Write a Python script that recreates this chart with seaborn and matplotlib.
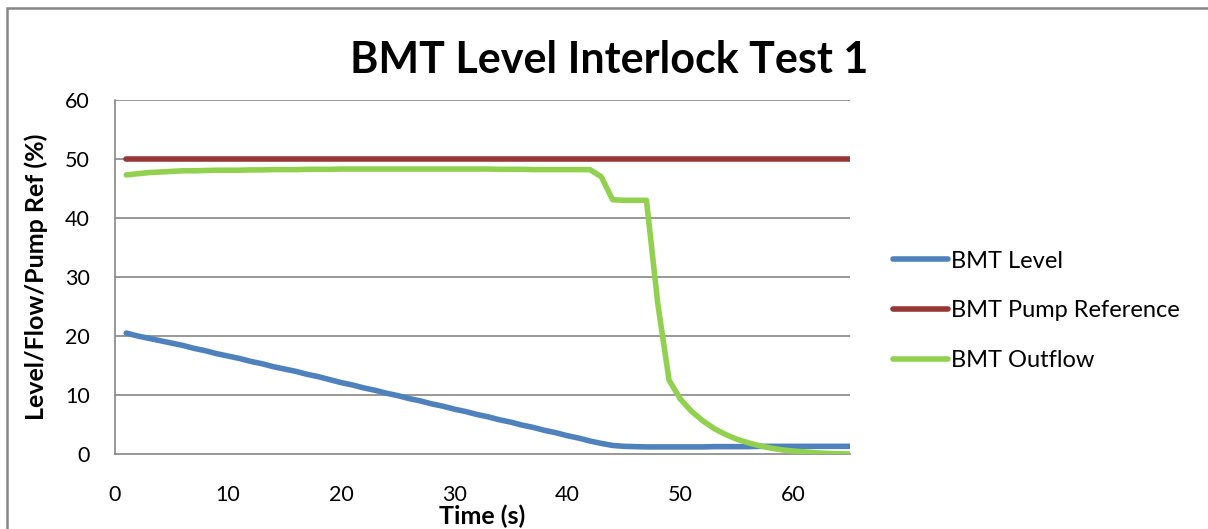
import matplotlib
matplotlib.use("Agg")
import matplotlib.pyplot as plt
import seaborn as sns
import pandas as pd
from matplotlib.patches import Rectangle

# Sample times (s)
time_s = list(range(1, 66))

# Tank level (%)
bmt_level = [
    20.5, 20.0, 19.6, 19.2, 18.8, 18.4, 17.9, 17.5, 17.0, 16.6,
    16.2, 15.7, 15.3, 14.8, 14.4, 14.0, 13.5, 13.1, 12.6, 12.1,
    11.7, 11.2, 10.8, 10.3, 9.9, 9.4, 9.0, 8.5, 8.1, 7.6,
    7.2, 6.7, 6.3, 5.8, 5.4, 4.9, 4.5, 4.0, 3.6, 3.1,
    2.7, 2.2, 1.8, 1.45, 1.3, 1.25, 1.2, 1.2, 1.2, 1.2,
    1.2, 1.2, 1.25, 1.25, 1.25, 1.25, 1.3, 1.3, 1.3, 1.3,
    1.3, 1.3, 1.3, 1.3, 1.3,
]

# Pump speed reference (%)
bmt_pump_ref = [50.0] * 65

# Outflow (%)
bmt_outflow = [
    47.3, 47.5, 47.7, 47.8, 47.9, 48.0, 48.0, 48.05, 48.1, 48.1,
    48.1, 48.15, 48.15, 48.2, 48.2, 48.2, 48.25, 48.25, 48.25, 48.3,
    48.3, 48.3, 48.3, 48.3, 48.3, 48.3, 48.3, 48.3, 48.3, 48.3,
    48.3, 48.3, 48.3, 48.25, 48.25, 48.25, 48.2, 48.2, 48.2, 48.2,
    48.2, 48.2, 47.0, 43.1, 43.0, 43.0, 43.0, 25.5, 12.5, 9.3,
    7.2, 5.6, 4.3, 3.3, 2.5, 1.9, 1.4, 1.0, 0.7, 0.5,
    0.35, 0.2, 0.1, 0.05, 0.0,
]

series_names = ["BMT Level", "BMT Pump Reference", "BMT Outflow"]
series_colors = ["#4F81BD", "#953735", "#92D050"]

df = pd.DataFrame({
    "Time": time_s * 3,
    "Value": bmt_level + bmt_pump_ref + bmt_outflow,
    "Series": [series_names[0]] * 65 + [series_names[1]] * 65 + [series_names[2]] * 65,
})

sns.set_theme(style="white")
plt.rcParams["font.family"] = ["Lato", "DejaVu Sans"]
plt.rcParams["text.color"] = "black"
plt.rcParams["axes.labelcolor"] = "black"

fig = plt.figure(figsize=(12.08, 5.29), dpi=100)
ax = fig.add_axes([115 / 1208, 1 - 454 / 529, (850 - 115) / 1208, (454 - 100) / 529])

grid_color = "#868686"
for yv in range(10, 70, 10):
    ax.axhline(yv, color=grid_color, lw=1.2, zorder=0)

sns.lineplot(
    data=df, x="Time", y="Value", hue="Series",
    palette=dict(zip(series_names, series_colors)),
    linewidth=4.0, ax=ax, legend=True, zorder=3,
)
for line in ax.lines:
    line.set_solid_capstyle("round")

ax.set_xlim(0, 65)
ax.set_ylim(0, 60)
ax.set_xticks(range(0, 70, 10))
ax.set_yticks(range(0, 70, 10))
ax.tick_params(axis="both", which="major", labelsize=15.5, direction="out",
               length=6, width=1.2, color=grid_color, labelcolor="black")
ax.tick_params(axis="y", pad=12)
ax.tick_params(axis="x", pad=16)

for side in ["top", "right"]:
    ax.spines[side].set_visible(False)
for side in ["left", "bottom"]:
    ax.spines[side].set_color(grid_color)
    ax.spines[side].set_linewidth(1.2)

ax.set_xlabel("Time (s)", fontsize=18, fontweight="bold", labelpad=0)
ax.set_ylabel("Level/Flow/Pump Ref (%)", fontsize=18, fontweight="bold", labelpad=12)

fig.text(609 / 1208, 1 - 60 / 529, "BMT Level Interlock Test 1",
         fontsize=31, fontweight="bold", ha="center", va="center")

handles, labels = ax.get_legend_handles_labels()
leg = ax.legend(handles, labels, loc="center left",
                bbox_to_anchor=(872 / 1208, 1 - 311 / 529),
                bbox_transform=fig.transFigure,
                frameon=False, fontsize=17, handlelength=2.3,
                handletextpad=0.15, labelspacing=1.22, title=None)
for lh in leg.get_lines():
    lh.set_linewidth(4.0)
    lh.set_solid_capstyle("round")

# Outer chart frame (top and left edges visible)
fig.patches.append(Rectangle((7.5 / 1208, -0.5), 2.0, 0.5 + 1 - 7.5 / 529,
                             transform=fig.transFigure, fill=False,
                             edgecolor="#878787", linewidth=1.8, zorder=10))

fig.savefig("out.png", dpi=100)
